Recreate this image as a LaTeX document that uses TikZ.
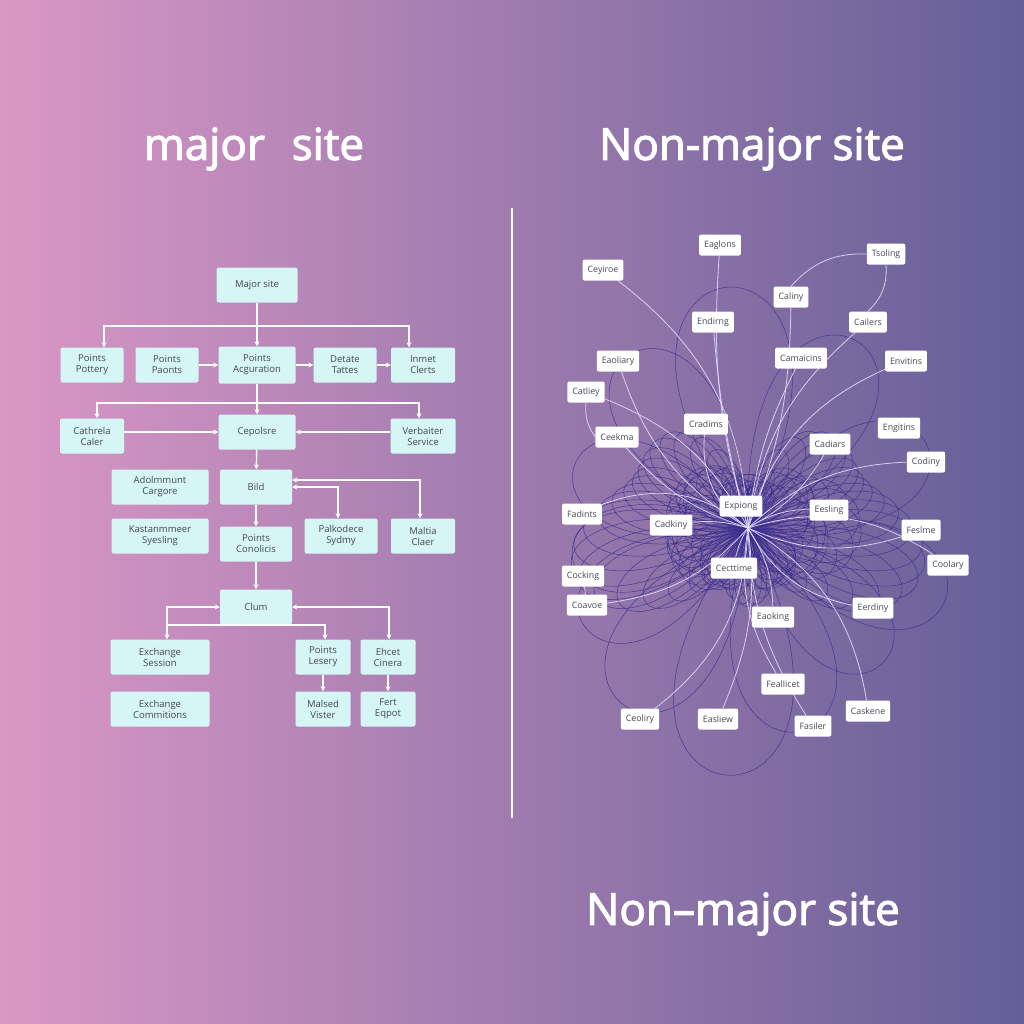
\documentclass[tikz,border=0pt]{standalone}
\usepackage{fontspec}
\setmainfont{Open Sans}
\newfontfamily\titlefont{Open Sans}[FakeBold=2.5]
\usetikzlibrary{arrows.meta,positioning,backgrounds}
\definecolor{bgleft}{RGB}{218,151,197}
\definecolor{bgmid}{RGB}{166,122,172}
\definecolor{bgright}{RGB}{100,95,152}
\definecolor{boxfill}{RGB}{214,246,246}
\definecolor{boxtext}{RGB}{70,70,84}
\definecolor{petalcol}{RGB}{58,46,142}
\definecolor{wirecol}{RGB}{226,218,250}
\pgfdeclarelayer{bglayer}
\pgfdeclarelayer{linelayer}
\pgfsetlayers{bglayer,linelayer,main}
\tikzset{
  flow/.style={fill=boxfill, rounded corners=2pt, text=boxtext, align=center,
    font=\fontsize{9.5}{11}\selectfont, minimum height=35pt, inner sep=2pt},
  tag/.style={fill=white, rounded corners=2pt, text=boxtext,
    font=\fontsize{8.8}{10}\selectfont, minimum height=21pt, inner xsep=5pt},
  flowline/.style={draw=white, line width=1.4pt},
  flowarrow/.style={flowline, -{Stealth[length=5pt,width=5pt]}},
  flowboth/.style={flowline, {Stealth[length=5pt,width=5pt]}-{Stealth[length=5pt,width=5pt]}},
  petal/.style={draw=petalcol, line width=0.5pt, opacity=0.85},
  wire/.style={draw=wirecol, line width=0.8pt, opacity=0.9},
  title/.style={text=white, font=\fontsize{44}{50}\titlefont}
}
\begin{document}
\begin{tikzpicture}[x=1pt,y=-1pt]
\useasboundingbox (0,0) rectangle (1024,1024);
\begin{pgfonlayer}{bglayer}
\shade[left color=bgleft, middle color=bgmid, right color=bgright] (0,0) rectangle (1024,1024);
\end{pgfonlayer}

% titles
\node[title] (ttlA) at (254,149) {major\hspace{0.35em} site};
\node[title] (ttlB) at (752,149) {Non-major site};
\node[title] (ttlC) at (743,914) {Non–major site};
\draw[white, line width=1.8pt] (512,208) -- (512,818);

% major site flow
\node[flow,minimum width=81pt] (major) at (257,285) {Major site};
\node[flow,minimum width=63pt] (ppot) at (92,365) {Points\\Pottery};
\node[flow,minimum width=63pt] (ppaon) at (167,365) {Points\\Paonts};
\node[flow,minimum width=77pt,minimum height=37pt] (pacq) at (257,365) {Points\\Acguration};
\node[flow,minimum width=63pt] (detat) at (345,365) {Detate\\Tattes};
\node[flow,minimum width=64pt] (inmet) at (423,365) {Inmet\\Clerts};
\node[flow,minimum width=64pt] (cath) at (92,436) {Cathrela\\Caler};
\node[flow,minimum width=77pt] (cepo) at (257,432) {Cepolsre};
\node[flow,minimum width=65pt] (verb) at (423,436) {Verbaiter\\Service};
\node[flow,minimum width=97pt] (adol) at (160,487) {Adolmmunt\\Cargore};
\node[flow,minimum width=72pt] (bild) at (256,487) {Bild};
\node[flow,minimum width=97pt] (kast) at (160,536) {Kastanmmeer\\Syesling};
\node[flow,minimum width=72pt] (pcon) at (256,544) {Points\\Conolicis};
\node[flow,minimum width=73pt] (palk) at (341,536) {Palkodece\\Sydmy};
\node[flow,minimum width=64pt] (malt) at (423,536) {Maltia\\Claer};
\node[flow,minimum width=72pt] (clum) at (256,607) {Clum};
\node[flow,minimum width=99pt] (exs) at (160,657) {Exchange\\Session};
\node[flow,minimum width=55pt] (ples) at (323,657) {Points\\Lesery};
\node[flow,minimum width=55pt] (ehc) at (388,657) {Ehcet\\Cinera};
\node[flow,minimum width=99pt] (exc) at (160,709) {Exchange\\Commitions};
\node[flow,minimum width=55pt] (mals) at (323,709) {Malsed\\Vister};
\node[flow,minimum width=55pt] (fert) at (388,709) {Fert\\Eqpot};

\coordinate (split1) at (257,326);
\coordinate (split2) at (257,403);
\coordinate (tap) at (167,625);
\draw[flowarrow] (major) -- (pacq);
\draw[flowarrow] (split1) -| ([xshift=12pt]ppot.north);
\draw[flowarrow] (split1) -| ([xshift=-14pt]inmet.north);
\draw[flowarrow] (ppaon) -- (pacq);
\draw[flowarrow] (pacq) -- (detat);
\draw[flowarrow] (detat) -- (inmet);
\draw[flowline] (pacq) -- (split2);
\draw[flowarrow] (split2) -| ([xshift=5pt]cath.north);
\draw[flowarrow] (split2) -| ([xshift=-4pt]verb.north);
\draw[flowarrow] (split2) -- (cepo);
\draw[flowarrow] (cath.east|-cepo.west) -- (cepo.west);
\draw[flowarrow] (verb.west|-cepo.east) -- (cepo.east);
\draw[flowarrow] (cepo) -- (bild);
\draw[flowboth] ([yshift=7pt]bild.east) -| ([xshift=-3pt]malt.north);
\draw[flowboth] (bild.east) -| ([xshift=-3pt]palk.north);
\draw[flowarrow] (bild) -- (pcon);
\draw[flowarrow] (pcon) -- (clum);
\draw[flowboth] (clum.west) -| ([xshift=7pt]exs.north);
\draw[flowboth] (clum.east) -| ([xshift=1pt]ehc.north);
\draw[flowarrow] (tap) -| ([xshift=2pt]ples.north);
\draw[flowarrow] (ples) -- (mals);
\draw[flowarrow] (ehc) -- (fert);

% non-major site network
\node[tag] (eaglons) at (720,245) {Eaglons};
\node[tag] (ceyiroe) at (603,270) {Ceyiroe};
\node[tag] (tsoling) at (886,254) {Tsoling};
\node[tag] (caliny) at (791,297) {Caliny};
\node[tag] (endirng) at (713,322) {Endirng};
\node[tag] (cailers) at (868,322) {Cailers};
\node[tag] (eaoliary) at (618,361) {Eaoliary};
\node[tag] (camaicins) at (801,358) {Camaicins};
\node[tag] (envitins) at (906,361) {Envitins};
\node[tag] (catliey) at (586,392) {Catliey};
\node[tag] (ceekma) at (617,437) {Ceekma};
\node[tag] (cradims) at (706,424) {Cradims};
\node[tag] (cadiars) at (830,444) {Cadiars};
\node[tag] (engitins) at (899,428) {Engitins};
\node[tag] (codiny) at (926,462) {Codiny};
\node[tag] (fadints) at (582,514) {Fadints};
\node[tag] (cadkiny) at (671,525) {Cadkiny};
\node[tag] (exping) at (741,506) {Expiong};
\node[tag] (eesling) at (829,510) {Eesling};
\node[tag] (feslme) at (921,530) {Feslme};
\node[tag] (coolary) at (948,565) {Coolary};
\node[tag] (cectime) at (734,568) {Cecttime};
\node[tag] (codkrng) at (583,576) {Cocking};
\node[tag] (coavoe) at (587,605) {Coavoe};
\node[tag] (eaoking) at (773,617) {Eaoking};
\node[tag] (eerdiny) at (873,608) {Eerdiny};
\node[tag] (fealicet) at (783,684) {Feallicet};
\node[tag] (caskene) at (868,711) {Caskene};
\node[tag] (ceoliry) at (640,719) {Ceoliry};
\node[tag] (easliew) at (718,719) {Easliew};
\node[tag] (fasiler) at (813,726) {Fasiler};

\coordinate (hub) at (748,528);
\begin{pgfonlayer}{linelayer}
% dense petals round the hub
\foreach \k in {0,...,59} {
  \pgfmathsetmacro\ang{\k*6}
  \pgfmathsetmacro\rad{160+80*cos(2*\ang)+35*sin(5*\ang)}
  \draw[petal] (hub) .. controls +(\ang-24:\rad) and +(\ang+24:\rad) .. (hub);
}
\foreach \k in {0,...,35} {
  \pgfmathsetmacro\ang{\k*10+3}
  \pgfmathsetmacro\rad{110+50*cos(2*\ang)+25*cos(3*\ang)}
  \draw[petal] (hub) .. controls +(\ang-35:\rad) and +(\ang+35:\rad) .. (hub);
}
\foreach \k in {0,...,39} {
  \pgfmathsetmacro\ang{\k*9+5}
  \pgfmathsetmacro\rad{80+55*abs(cos(\ang))+20*sin(7*\ang)}
  \draw[petal] (hub) .. controls +(\ang-45:\rad) and +(\ang+45:\rad) .. (hub);
}
% wide outer loops
\foreach \ang/\rad in {95/390, 75/330, 125/340, 150/300, 200/290, 235/330, 265/380, 300/340, 335/310, 20/330, 45/300, 170/280} {
  \draw[petal] (hub) .. controls +(\ang-32:\rad) and +(\ang+32:\rad) .. (hub);
}
% white wires
\foreach \n/\b in {eaglons/-10, ceyiroe/25, endirng/-5, caliny/10, camaicins/-10,
  cailers/-20, envitins/-25, eaoliary/-20, catliey/20, ceekma/-15, cradims/-30,
  cadiars/15, codiny/-20, fadints/30, cadkiny/10, eesling/-15, feslme/20,
  coolary/-25, cectime/10, coavoe/-20, eaoking/-15, eerdiny/25, fealicet/20,
  caskene/-25, ceoliry/-25, easliew/-15, fasiler/15} {
  \draw[wire] (\n) to[bend left=\b] (hub);
}
\draw[wire] (tsoling.west) to[bend right=25] (caliny.north);
\draw[wire] (tsoling.south) to[bend left=25] (cailers.north);
\draw[wire] (catliey.south) to[bend right=20] (ceekma.west);
\draw[wire] (codkrng) -- (coavoe);
\end{pgfonlayer}
\end{tikzpicture}
\end{document}
